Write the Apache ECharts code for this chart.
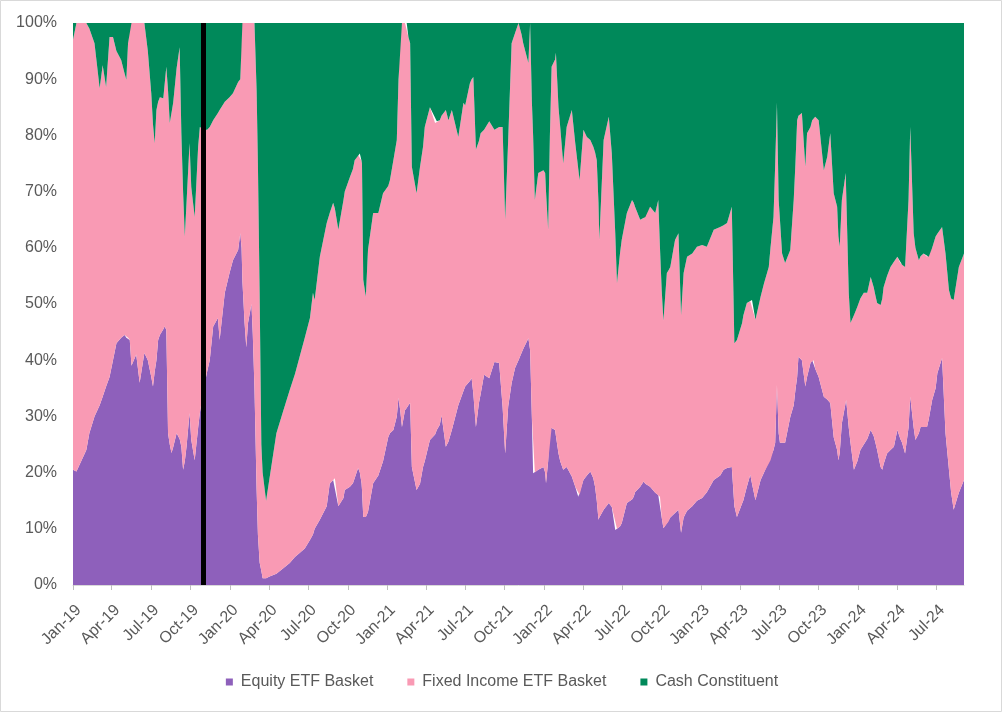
<!DOCTYPE html>
<html>
<head>
<meta charset="utf-8">
<script src="https://cdn.jsdelivr.net/npm/echarts@6/dist/echarts.min.js"></script>
<style>
html,body{margin:0;padding:0;background:#fff;}
#c{width:1004px;height:713px;}
</style>
</head>
<body>
<div id="c"></div>
<script>
const seriesNames = ['Equity ETF Basket', 'Fixed Income ETF Basket', 'Cash Constituent'];

const dates = [
'2019-01-01','2019-01-09','2019-01-20','2019-02-01','2019-02-08','2019-02-20','2019-03-04','2019-03-11','2019-03-19','2019-03-27',
'2019-04-04','2019-04-12','2019-04-23','2019-05-01','2019-05-05','2019-05-09','2019-05-13','2019-05-17','2019-05-28','2019-06-05',
'2019-06-16','2019-06-24','2019-07-02','2019-07-06','2019-07-10','2019-07-14','2019-07-18','2019-07-22','2019-07-30','2019-08-02',
'2019-08-06','2019-08-10','2019-08-14','2019-08-18','2019-08-22','2019-08-30','2019-09-06','2019-09-10','2019-09-14','2019-09-18',
'2019-09-22','2019-09-29','2019-10-03','2019-10-11','2019-10-19','2019-10-23','2019-11-01','2019-11-09','2019-11-15','2019-11-23',
'2019-12-04','2019-12-08','2019-12-20','2019-12-31','2020-01-08','2020-01-20','2020-01-25','2020-01-28','2020-01-30','2020-02-04',
'2020-02-08','2020-02-12','2020-02-20','2020-02-23','2020-02-27','2020-03-03','2020-03-06','2020-03-10','2020-03-14','2020-03-17',
'2020-03-25','2020-04-02','2020-04-18','2020-05-04','2020-05-19','2020-05-31','2020-06-11','2020-06-23','2020-07-05','2020-07-12',
'2020-07-16','2020-07-28','2020-08-13','2020-08-20','2020-08-28','2020-09-01','2020-09-09','2020-09-21','2020-09-24','2020-10-06',
'2020-10-13','2020-10-17','2020-10-25','2020-10-29','2020-11-02','2020-11-03','2020-11-06','2020-11-12','2020-11-17','2020-11-29',
'2020-12-11','2020-12-22','2021-01-03','2021-01-07','2021-01-15','2021-01-23','2021-01-27','2021-01-31','2021-02-04','2021-02-11',
'2021-02-15','2021-02-19','2021-02-23','2021-02-27','2021-03-10','2021-03-18','2021-03-25','2021-03-29','2021-04-10','2021-04-22',
'2021-04-26','2021-05-03','2021-05-07','2021-05-17','2021-05-23','2021-05-31','2021-06-15','2021-06-27','2021-07-01','2021-07-12',
'2021-07-16','2021-07-20','2021-07-26','2021-08-02','2021-08-06','2021-08-14','2021-08-26','2021-09-07','2021-09-18','2021-09-26',
'2021-10-02','2021-10-09','2021-10-17','2021-10-25','2021-11-02','2021-11-09','2021-11-13','2021-11-25','2021-11-29','2021-12-03',
'2021-12-06','2021-12-10','2021-12-18','2021-12-30','2022-01-03','2022-01-05','2022-01-10','2022-01-14','2022-01-18','2022-01-26',
'2022-01-28','2022-02-03','2022-02-07','2022-02-14','2022-02-22','2022-03-06','2022-03-14','2022-03-21','2022-03-24','2022-04-02',
'2022-04-10','2022-04-18','2022-04-25','2022-04-29','2022-05-03','2022-05-07','2022-05-09','2022-05-19','2022-05-31','2022-06-07',
'2022-06-15','2022-06-19','2022-06-26','2022-06-30','2022-07-12','2022-07-24','2022-07-28','2022-07-31','2022-08-12','2022-08-20',
'2022-08-24','2022-09-04','2022-09-16','2022-09-23','2022-09-27','2022-10-01','2022-10-05','2022-10-13','2022-10-17','2022-10-21',
'2022-11-01','2022-11-09','2022-11-15','2022-11-21','2022-11-29','2022-12-11','2022-12-22','2023-01-03','2023-01-14','2023-01-30',
'2023-02-14','2023-02-22','2023-03-02','2023-03-13','2023-03-19','2023-03-25','2023-04-06','2023-04-09','2023-04-17','2023-04-25',
'2023-04-29','2023-05-07','2023-05-19','2023-05-27','2023-06-07','2023-06-11','2023-06-18','2023-06-22','2023-06-26','2023-06-30',
'2023-07-03','2023-07-08','2023-07-15','2023-07-27','2023-08-04','2023-08-08','2023-08-12','2023-08-15','2023-08-23','2023-08-31',
'2023-09-04','2023-09-12','2023-09-16','2023-09-19','2023-09-23','2023-10-01','2023-10-13','2023-10-21','2023-10-28','2023-11-05',
'2023-11-13','2023-11-16','2023-11-19','2023-11-24','2023-12-03','2023-12-04','2023-12-10','2023-12-14','2023-12-22','2023-12-30',
'2024-01-06','2024-01-14','2024-01-22','2024-01-30','2024-02-06','2024-02-10','2024-02-14','2024-02-22','2024-02-26','2024-02-29',
'2024-03-08','2024-03-16','2024-03-24','2024-04-01','2024-04-08','2024-04-12','2024-04-19','2024-04-27','2024-05-01','2024-05-09',
'2024-05-13','2024-05-21','2024-05-25','2024-06-01','2024-06-09','2024-06-13','2024-06-21','2024-06-29','2024-07-03','2024-07-14',
'2024-07-22','2024-07-30','2024-08-04','2024-08-10','2024-08-22','2024-09-03'
];

const equity = [
20.5,20.2,22,24,27,30,32,33.5,35.3,37,
40,43,44,44.5,44,44,43.6,39,41,36,
41.3,40,37,35.3,38,40,43.6,44.5,45.5,46,
45.4,27,25,23.5,24.5,27,26,24.6,20.5,22,
24.6,30.6,25.8,22.2,28,30.6,35,38,40,46,
47.5,43.6,52,55.5,57.8,59.6,62.6,60,54,46.6,
42.3,46.6,50,44.8,35,17,9,4,2.5,1.2,
1.2,1.5,2,3,3.9,5,5.7,6.5,8,9,
10,11.6,14,18,18.7,19,14,15.5,16.9,17.5,
18.1,19,20.8,20,18.1,17,12.1,12.1,13,18.1,
19.5,22,26.3,27,27.6,30,33.3,31,28.1,31.1,
31.5,32,32.4,21,16.9,18,21,22,25.8,26.8,
27.6,28.5,30.2,24.6,25.5,27.6,32,34.5,35.3,36.3,
36.8,34,28.1,32.4,34,37.4,36.8,39.7,39.5,31.7,
23.4,31.7,35.9,38.6,40,41.3,42,43.9,41.8,30,
19.9,20,20.5,21,20,18.1,22,28.1,28,27.6,
26.5,23.4,22,20.5,21,19.3,17.5,15.7,16,18.7,
19.5,20.2,19,17.5,15,11.6,12,13.4,14.6,13.9,
9.8,10,10.4,11,14.6,15.2,15.7,16.5,17.5,18.4,
18,17.5,16.4,16,15.7,12,10.1,11,11.3,12,
12.8,13.4,9.3,12,13.2,14,15,15.5,16.5,18.7,
19.5,20.5,20.8,21,14,12.1,14.5,15.1,17.5,19.6,
18,15.1,18.7,20,22,22.2,24,25.3,35.6,27,
25.3,25.3,25.3,29.9,32,34.7,37,40.6,40,35.3,
37,39.5,40,40,38.5,37,33.5,33,32.4,26.3,
24,22.2,23.5,28.8,32.5,32.9,28,25.3,20.5,22,
24,25,26,27.6,26.5,25.3,24,21,20.5,21.5,
23.4,24,24.6,27.6,26,25.3,23.4,28,33.5,28,
25.8,27,28.1,28.1,28.1,29.5,32.9,35,37.7,40.4,
27,20.5,16.5,13.4,16.4,18.7
];

const fixedIncome = [
76.5,79.8,78,76,72,66.4,56.4,59,53.3,60.5,
57.5,52,49.4,46.5,45.9,52.4,56.4,61,59,64,
58.7,55,50.5,46.7,40.6,44.5,42.4,42.3,41.1,43,
46.8,61,57.2,60.5,61.3,65,69.7,55.8,49.5,40,
43.4,48,45,43.3,50,50.9,46,43,41.5,36.7,
36.5,40.9,34,31.3,29.7,29.9,27.4,40,46,53.4,
57.7,53.4,50,55.2,65,71,66,48,22.5,18.8,
13.8,17.5,25,28,30.8,32.5,34.9,37.5,39.5,43,
40.7,46.8,50.4,48.2,49.3,48,49.2,53,53.1,55.1,
55.9,56.6,55.7,56.8,57.4,58,42.2,39.2,46.6,48.1,
46.7,47.7,44.7,45,48,49.2,56.7,69,71.9,68.9,
68.5,65.5,64,53.4,52.8,56.4,57,59.5,59.2,55.4,
54.9,54.2,53.3,59.9,57.2,56.9,47.7,51.3,50,53,
53.2,56.4,49.4,46.6,46.4,43.6,45.7,41.3,42,49.8,
41.6,47.5,60.5,59.6,60,56.7,54.4,49,58.2,56.3,
60.1,48.5,52.8,52.8,53.3,51.9,41.2,51.9,64.2,65.9,
68.2,61.6,59.5,54.5,60.5,65.2,61.1,58.3,56,62.3,
60.2,59,59,59.5,60.6,56.4,49.4,65.8,68.7,62.9,
52.8,43.7,48.6,50.4,51.6,53.3,52.3,50.8,47.5,46.9,
47.5,49.8,49.8,52.5,44.3,40.5,36.9,44.5,44.7,44.6,
48.6,49.2,38.7,43.5,45.2,45,45.2,45,43.7,44.5,
44.2,43.5,43.6,46.3,29,31.5,32.1,32.9,32.7,30.9,
32.7,32.1,32.6,33.7,34.6,37.8,41.5,49.7,50.2,41.5,
39.7,33.7,32,29.7,36.5,40.3,45.7,42.9,44,39.1,
43.4,42,42.7,43,44.8,45.7,40.3,43.2,48,43.4,
43.3,39.8,36.7,39.7,40.8,37.1,24,21.3,27.5,27.5,
27,27,26,27.2,26.5,26.2,26.2,28.8,30.5,31.5,
31.6,32.6,32.9,30.8,31.3,31.7,33.2,40.5,48,34.6,
34.2,30.8,30.4,30.9,30.3,28.9,27.1,27,24.8,23.3,
32,32,34.5,37.3,40.2,40.3
];

const cash = [
3,0,0,0,1,3.6,11.6,7.5,11.4,2.5,
2.5,5,6.6,9,10.1,3.6,0,0,0,0,
0,5,12.5,18,21.4,15.5,14,13.2,13.4,11,
7.8,12,17.8,16,14.2,8,4.3,19.6,30,38,
32,21.4,29.2,34.5,22,18.5,19,19,18.5,17.3,
16,15.5,14,13.2,12.5,10.5,10,0,0,0,
0,0,0,0,0,12,25,48,75,80,
85,81,73,69,65.3,62.5,59.4,56,52.5,48,
49.3,41.6,35.6,33.8,32,33,36.8,31.5,30,27.4,
26,24.4,23.5,23.2,24.5,25,45.7,48.7,40.4,33.8,
33.8,30.3,29,28,24.4,20.8,10,0,0,0,
0,2.5,3.6,25.6,30.3,25.6,22,18.5,15,17.8,
17.5,17.3,16.5,15.5,17.3,15.5,20.3,14.2,14.7,10.7,
10,9.6,22.5,21,19.6,19,17.5,19,18.5,18.5,
35,20.8,3.6,1.8,0,2,3.6,7.1,0,13.7,
20,31.5,26.7,26.2,26.7,30,36.8,20,7.8,6.5,
5.3,15,18.5,25,18.5,15.5,21.4,26,28,19,
20.3,20.8,22,23,24.4,32,38.6,20.8,16.7,23.2,
37.4,46.3,41,38.6,33.8,31.5,32,32.7,35,34.7,
34.5,32.7,33.8,31.5,40,47.5,53,44.5,44,43.4,
38.6,37.4,52,44.5,41.6,41,39.8,39.5,39.8,36.8,
36.3,36,35.6,32.7,57,56.4,53.4,52,49.8,49.5,
49.3,52.8,48.7,46.3,43.4,40,34.5,25,14.2,31.5,
35,41,42.7,40.4,31.5,25,17.3,16.5,16,25.6,
19.6,18.5,17.3,17,16.7,17.3,26.2,23.8,19.6,30.3,
32.7,38,39.8,31.5,26.7,30,48,53.4,52,50.5,
49,48,48,45.2,47,48.5,49.8,50.2,49,47,
45,43.4,42.5,41.6,42.7,43,43.4,31.5,18.5,37.4,
40,42.2,41.5,41,41.6,41.6,40,38,37.5,36.3,
41,47.5,49,49.3,43.4,41
];

const tickDates = [
'2019-01-01','2019-04-01','2019-07-01','2019-10-01',
'2020-01-01','2020-04-01','2020-07-01','2020-10-01',
'2021-01-01','2021-04-01','2021-07-01','2021-10-01',
'2022-01-01','2022-04-01','2022-07-01','2022-10-01',
'2023-01-01','2023-04-01','2023-07-01','2023-10-01',
'2024-01-01','2024-04-01','2024-07-01'
];
const tickLabels = [
'Jan-19','Apr-19','Jul-19','Oct-19',
'Jan-20','Apr-20','Jul-20','Oct-20',
'Jan-21','Apr-21','Jul-21','Oct-21',
'Jan-22','Apr-22','Jul-22','Oct-22',
'Jan-23','Apr-23','Jul-23','Oct-23',
'Jan-24','Apr-24','Jul-24'
];
const yTicks = [0,10,20,30,40,50,60,70,80,90,100];
const markerDate = '2019-11-01';

const colors = ['#8E60BB', '#F99AB4', '#00895A'];
const FONT = 'Liberation Sans, Arial, sans-serif';

const DAY = 86400000;
function ts(s) {
  const p = s.split('-').map(Number);
  return Date.UTC(p[0], p[1] - 1, p[2]);
}
const T0 = ts(dates[0]);
const xs = dates.map(ts);
const tickDays = tickDates.map(d => Math.round((ts(d) - T0) / DAY));
const lastDay = Math.round((xs[xs.length - 1] - T0) / DAY);
const values = [equity, fixedIncome, cash];

function makeSeries(i) {
  const s = {
    name: seriesNames[i],
    type: 'line',
    stack: 'total',
    xAxisIndex: 0,
    symbol: 'none',
    showSymbol: false,
    smooth: false,
    silent: true,
    emphasis: {disabled: true},
    lineStyle: {width: 0, color: colors[i]},
    itemStyle: {color: colors[i]},
    areaStyle: {color: colors[i], opacity: 1},
    data: xs.map((x, k) => [x, values[i][k]])
  };
  if (i === 2) {
    s.markLine = {
      silent: true,
      symbol: ['none', 'none'],
      label: {show: false},
      emphasis: {disabled: true},
      lineStyle: {color: '#000000', width: 5, type: 'solid'},
      data: [{xAxis: ts(markerDate)}]
    };
  }
  return s;
}

const chart = echarts.init(document.getElementById('c'), null, {renderer: 'canvas'});
chart.setOption({
  animation: false,
  backgroundColor: '#ffffff',
  textStyle: {fontFamily: FONT},
  graphic: [{
    type: 'rect', silent: true, z: 100,
    shape: {x: 0.5, y: 0.5, width: 1001, height: 711},
    style: {fill: 'none', stroke: '#d9d9d9', lineWidth: 1}
  }],
  grid: {left: 73, right: 40, top: 23, bottom: 128, containLabel: false, outerBoundsMode: 'none'},
  legend: {
    data: seriesNames,
    left: 'center',
    top: 669,
    icon: 'rect',
    itemWidth: 7,
    itemHeight: 7,
    itemGap: 34,
    selectedMode: false,
    textStyle: {fontSize: 16, color: '#595959', fontFamily: FONT, padding: [0, 0, 0, 3]}
  },
  xAxis: [{
    type: 'time',
    position: 'bottom',
    min: xs[0],
    max: xs[xs.length - 1],
    splitLine: {show: false},
    axisLine: {show: false},
    axisTick: {show: false},
    axisLabel: {show: false}
  }, {
    type: 'value',
    position: 'bottom',
    min: 0,
    max: lastDay,
    splitLine: {show: false},
    axisLine: {show: true, lineStyle: {color: '#d9d9d9', width: 1}},
    axisTick: {show: true, length: 5, lineStyle: {color: '#bfbfbf'}, customValues: tickDays},
    axisLabel: {
      customValues: tickDays,
      rotate: 45,
      margin: 17,
      align: 'right',
      verticalAlign: 'top',
      fontSize: 16,
      color: '#595959',
      fontFamily: FONT,
      formatter: function (v) {
        const i = tickDays.indexOf(Math.round(v));
        return i >= 0 ? tickLabels[i] : '';
      }
    }
  }],
  yAxis: {
    type: 'value',
    min: yTicks[0],
    max: yTicks[yTicks.length - 1],
    interval: 10,
    splitLine: {show: false},
    axisLine: {show: false},
    axisTick: {show: false},
    axisLabel: {
      margin: 16,
      fontSize: 16,
      color: '#595959',
      fontFamily: FONT,
      formatter: '{value}%'
    }
  },
  series: [makeSeries(0), makeSeries(1), makeSeries(2)]
});
</script>
</body>
</html>
